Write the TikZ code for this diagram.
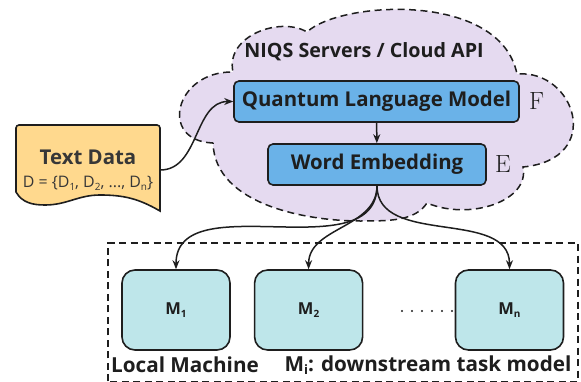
\documentclass[tikz,border=0pt]{standalone}
\usepackage[no-math]{fontspec}
\setmainfont{Open Sans}
\usetikzlibrary{positioning,arrows.meta}
\definecolor{nuage}{RGB}{229,218,240}
\definecolor{bleu}{RGB}{106,178,232}
\definecolor{sable}{RGB}{255,217,142}
\definecolor{turq}{RGB}{190,230,234}
\definecolor{encre}{RGB}{30,30,30}
\definecolor{gris}{RGB}{55,55,55}
\newcommand{\indice}[1]{\raisebox{-0.3ex}{\fontsize{10}{10}\selectfont #1}}

\begin{document}
\begin{tikzpicture}[x=1pt,y=1pt,
  boite/.style={draw=encre,line width=1.6pt,rounded corners=5pt,fill=bleu,minimum height=41pt,
    font=\fontsize{20.4}{24}\selectfont\bfseries,text=encre},
  modele/.style={draw=encre,line width=1.6pt,rounded corners=13pt,fill=turq,minimum width=108pt,
    minimum height=80pt,font=\fontsize{16.5}{18}\selectfont\bfseries,text=encre},
  lettre/.style={inner sep=0pt,font=\fontsize{24}{24}\selectfont,text=encre},
  legende/.style={font=\fontsize{20.7}{24}\selectfont\bfseries,text=encre},
  fleche/.style={line width=1.5pt,draw=encre,-{Stealth[length=9pt,width=7pt]}},
  tirets/.style={line width=1.5pt,draw=encre,dash pattern=on 7pt off 4.5pt}]
\useasboundingbox (0,0) rectangle (581,381);
% nuage des serveurs
\draw[tirets,fill=nuage] (213,238) .. controls (158,240) and (175,310) .. (233,309)
  .. controls (225,345) and (280,365) .. (307,349)
  .. controls (340,380) and (500,390) .. (517,307)
  .. controls (575,312) and (605,222) .. (523,214)
  .. controls (530,180) and (470,160) .. (427,178)
  .. controls (415,160) and (390,160) .. (360,160)
  .. controls (310,160) and (215,175) .. (213,238) -- cycle;
\node[font=\fontsize{19.7}{24}\selectfont\bfseries,text=encre] (titre) at (364,329) {NIQS Servers / Cloud API};
\node[boite,minimum width=285pt] (qlm) at (376.5,279.5) {Quantum Language Model};
\node[boite,minimum width=218pt] (we) at (377,216.5) {Word Embedding};
\node[lettre,right=9pt of qlm] (f) {$\mathrm{F}$};
\node[lettre,right=8pt of we] (e) {$\mathrm{E}$};
% document
\draw[line width=1.6pt,draw=encre,fill=sable] (16,189) -- (16,253) arc[start angle=180,end angle=90,radius=3]
  -- (157,256) arc[start angle=90,end angle=0,radius=3] -- (160,170)
  to[out=150,in=0] (100,186) to[out=180,in=0] (45,176) to[out=180,in=-60] cycle;
\node[minimum width=144pt,minimum height=87pt,align=center,text=gris,
  font=\fontsize{15.9}{25}\selectfont] (td) at (88,211)
  {{\fontsize{20.4}{25}\selectfont\bfseries Text Data}\\[-2pt]
   D = \{D\indice{1}, D\indice{2}, ..., D\indice{n}\}};
\draw[fleche] (td.east) to[out=0,in=180] (qlm.west);
\draw[fleche] (qlm) -- (we);
% machine locale
\draw[tirets] (108,-0.3) rectangle (578,138);
\node[modele] (m1) at (176,71) {M\indice{1}};
\node[modele,right=23pt of m1] (m2) {M\indice{2}};
\node[modele] (mn) at (509.5,71) {M\indice{n}};
\foreach \i in {0,...,5}
  \fill[encre] (402+\i*10,70) circle (1.2pt);
\node[legende] (lm) at (185,16) {Local Machine};
\node[legende] (mi) at (428,16)
  {M\indice{\fontsize{13}{13}\selectfont i}: downstream task model};
\draw[fleche] (we.south) to[out=-90,in=90] (m1.north);
\draw[fleche] (we.south) to[out=-90,in=90] (m2.north);
\draw[fleche] (we.south) to[out=-90,in=90] (mn.north);
\end{tikzpicture}
\end{document}
